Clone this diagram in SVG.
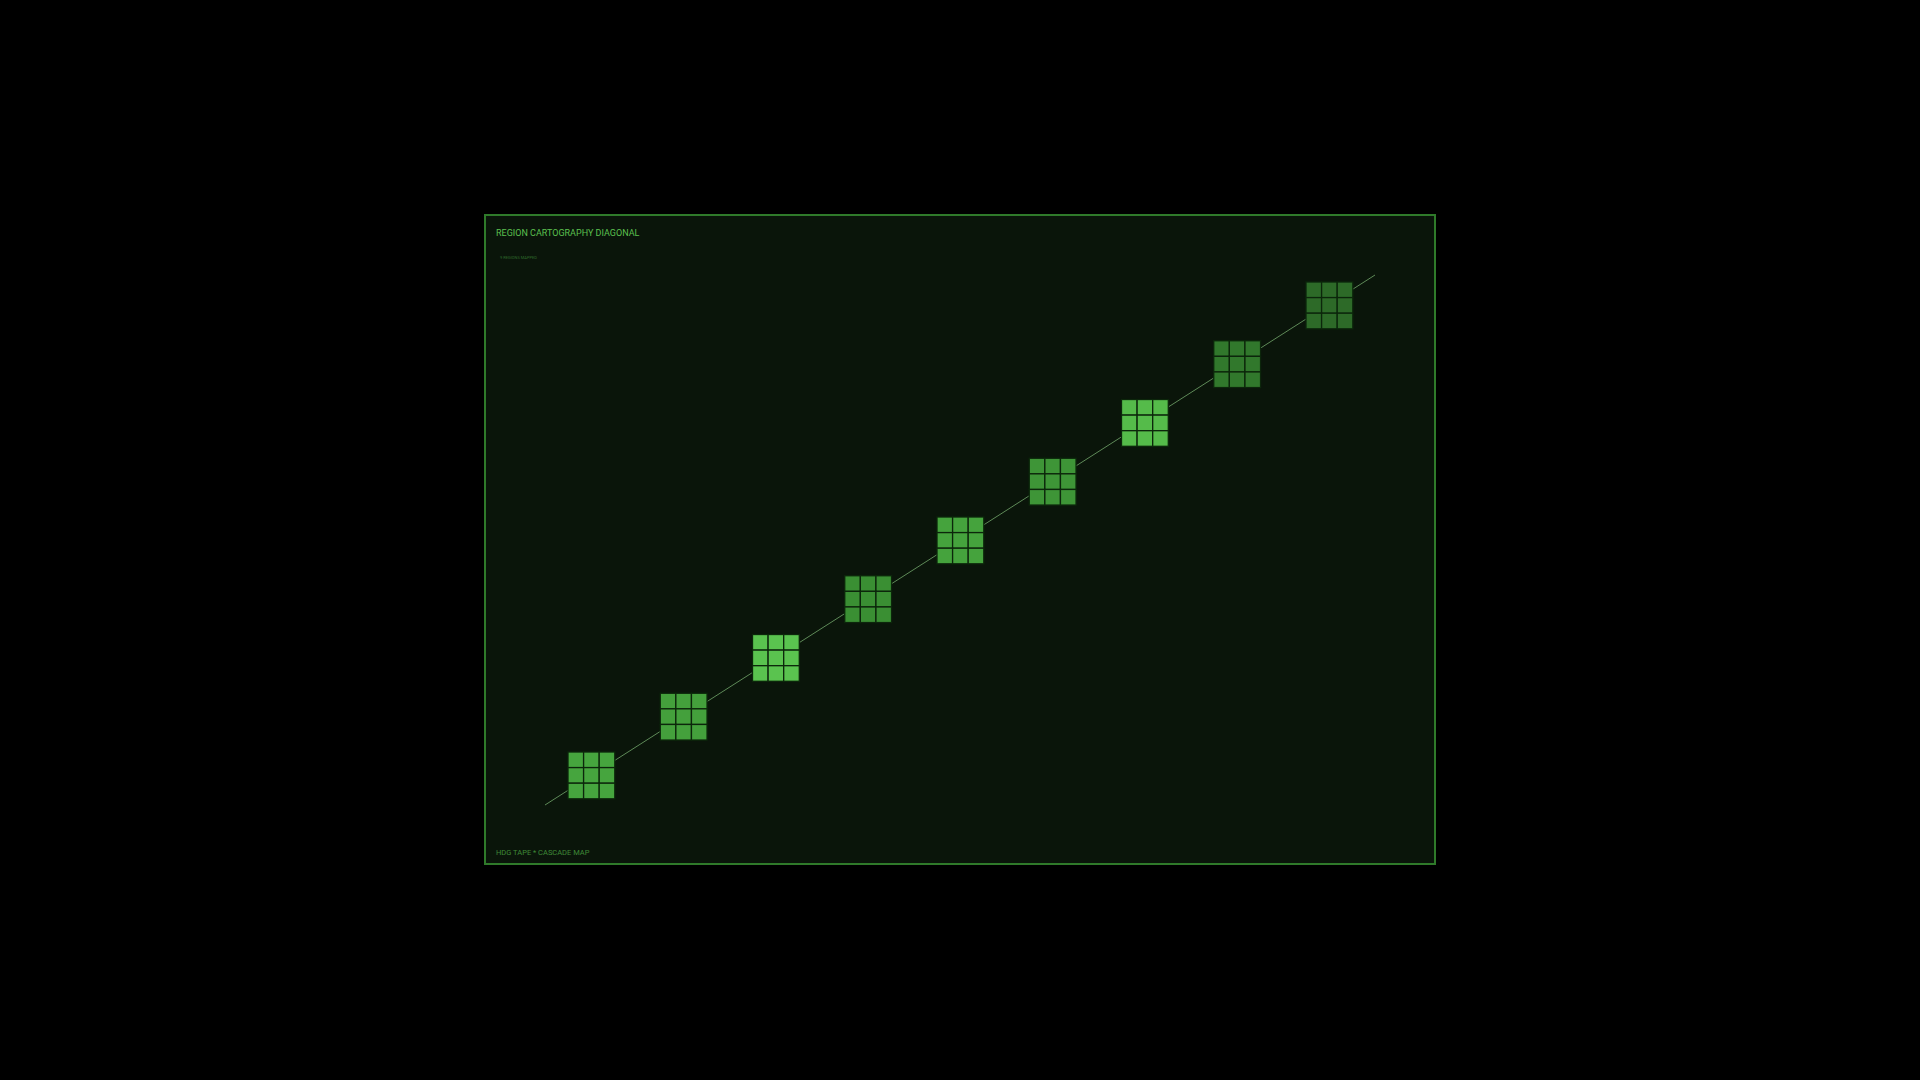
<svg xmlns="http://www.w3.org/2000/svg" width="1920" height="1080" viewBox="0 0 1920 1080">
<style>
.t{font-family:Roboto,"Liberation Sans",sans-serif}
.c{stroke:#0c260b;stroke-width:1.3}
</style>
<defs>
<g id="grid">
<rect class="c" x="0" y="0" width="15.6" height="15.6"/><rect class="c" x="15.6" y="0" width="15.6" height="15.6"/><rect class="c" x="31.2" y="0" width="15.6" height="15.6"/>
<rect class="c" x="0" y="15.6" width="15.6" height="15.6"/><rect class="c" x="15.6" y="15.6" width="15.6" height="15.6"/><rect class="c" x="31.2" y="15.6" width="15.6" height="15.6"/>
<rect class="c" x="0" y="31.2" width="15.6" height="15.6"/><rect class="c" x="15.6" y="31.2" width="15.6" height="15.6"/><rect class="c" x="31.2" y="31.2" width="15.6" height="15.6"/>
</g>
</defs>
<rect width="1920" height="1080" fill="#000"/>
<rect x="485" y="215" width="950" height="649" fill="#0a150a" stroke="#2f7a2a" stroke-width="2"/>
<text class="t" x="496" y="236" font-size="9" fill="#5cc04f">REGION CARTOGRAPHY DIAGONAL</text>
<text class="t" x="500" y="259" font-size="4" fill="#2f6a2a">9 REGIONS MAPPED</text>
<text class="t" x="496" y="855" font-size="7.5" fill="#3f8a37">HDG TAPE * CASCADE MAP</text>
<g id="connectors">
<line x1="545" y1="805" x2="1375" y2="275" stroke="#5e8a58" stroke-width="1"/>
</g>
<g id="node0" transform="translate(568 752)" fill="#46a53e"><use href="#grid"/></g>
<g id="node1" transform="translate(660.25 693.25)" fill="#44a03c"><use href="#grid"/></g>
<g id="node2" transform="translate(752.5 634.5)" fill="#5ac34f"><use href="#grid"/></g>
<g id="node3" transform="translate(844.75 575.75)" fill="#3a8f33"><use href="#grid"/></g>
<g id="node4" transform="translate(937 517)" fill="#45a33d"><use href="#grid"/></g>
<g id="node5" transform="translate(1029.25 458.25)" fill="#3e9537"><use href="#grid"/></g>
<g id="node6" transform="translate(1121.5 399.5)" fill="#55bb4a"><use href="#grid"/></g>
<g id="node7" transform="translate(1213.75 340.75)" fill="#31782c"><use href="#grid"/></g>
<g id="node8" transform="translate(1306 282)" fill="#2d6a28"><use href="#grid"/></g>
</svg>
